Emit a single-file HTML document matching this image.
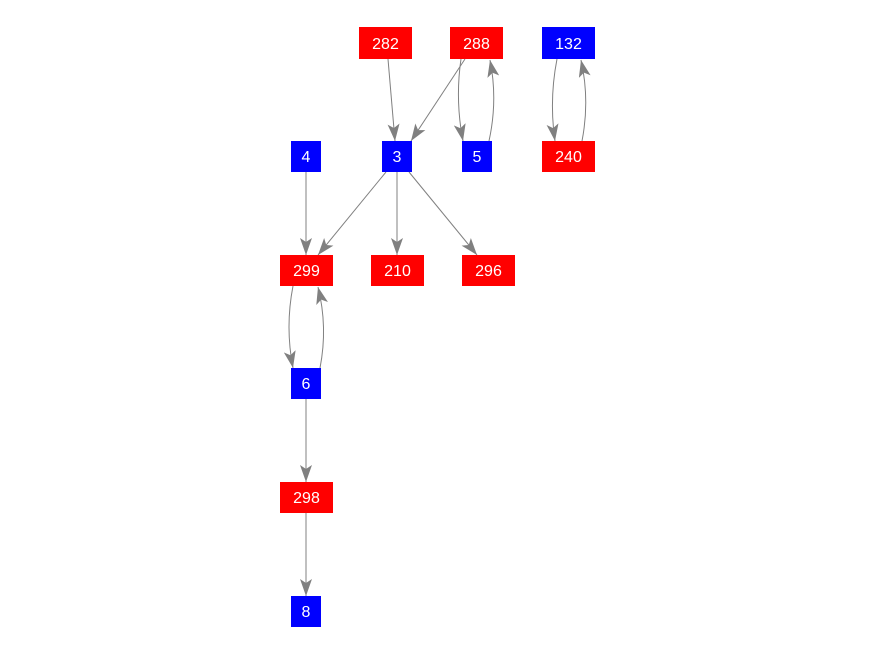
<!DOCTYPE html>
<html><head><style>body{margin:0;background:#fff}svg{display:block}</style></head><body>
<svg width="876" height="656" xmlns="http://www.w3.org/2000/svg" font-family="Liberation Sans, sans-serif" font-size="16">
<defs><marker id="a" markerWidth="17" markerHeight="12" refX="17" refY="6" orient="auto" markerUnits="userSpaceOnUse"><path d="M0,0 L17,6 L0,12 L4,6 Z" fill="#808080"/></marker></defs>
<g stroke="#808080" stroke-width="1" fill="none" marker-end="url(#a)">
<path d="M388,59 L395,141"/>
<path d="M465,59 L411,141"/>
<path d="M461,59 Q455,100 463,141"/>
<path d="M489,141 Q498,100 490,60"/>
<path d="M557,59 Q549,100 555,141"/>
<path d="M582,141 Q590,100 581,60"/>
<path d="M386,172 L318,255"/>
<path d="M397,172 L397,255"/>
<path d="M409,172 L477,255"/>
<path d="M306,172 L306,255"/>
<path d="M293,286 Q285,327 293,368"/>
<path d="M320,368 Q328,327 318,287"/>
<path d="M306,399 L306,482"/>
<path d="M306,513 L306,596"/>
</g>
<g fill="#fff" text-anchor="middle">
<rect x="359" y="27" width="53" height="32" fill="#f00"/><text x="385.5" y="49">282</text>
<rect x="450" y="27" width="53" height="32" fill="#f00"/><text x="476.5" y="49">288</text>
<rect x="542" y="27" width="53" height="32" fill="#00f"/><text x="568.5" y="49">132</text>
<rect x="291" y="141" width="30" height="31" fill="#00f"/><text x="306" y="162">4</text>
<rect x="382" y="141" width="30" height="31" fill="#00f"/><text x="397" y="162">3</text>
<rect x="462" y="141" width="30" height="31" fill="#00f"/><text x="477" y="162">5</text>
<rect x="542" y="141" width="53" height="31" fill="#f00"/><text x="568.5" y="162">240</text>
<rect x="280" y="255" width="53" height="31" fill="#f00"/><text x="306.5" y="276">299</text>
<rect x="371" y="255" width="53" height="31" fill="#f00"/><text x="397.5" y="276">210</text>
<rect x="462" y="255" width="53" height="31" fill="#f00"/><text x="488.5" y="276">296</text>
<rect x="291" y="368" width="30" height="31" fill="#00f"/><text x="306" y="389">6</text>
<rect x="280" y="482" width="53" height="31" fill="#f00"/><text x="306.5" y="503">298</text>
<rect x="291" y="596" width="30" height="31" fill="#00f"/><text x="306" y="617">8</text>
</g>
</svg>
</body></html>
